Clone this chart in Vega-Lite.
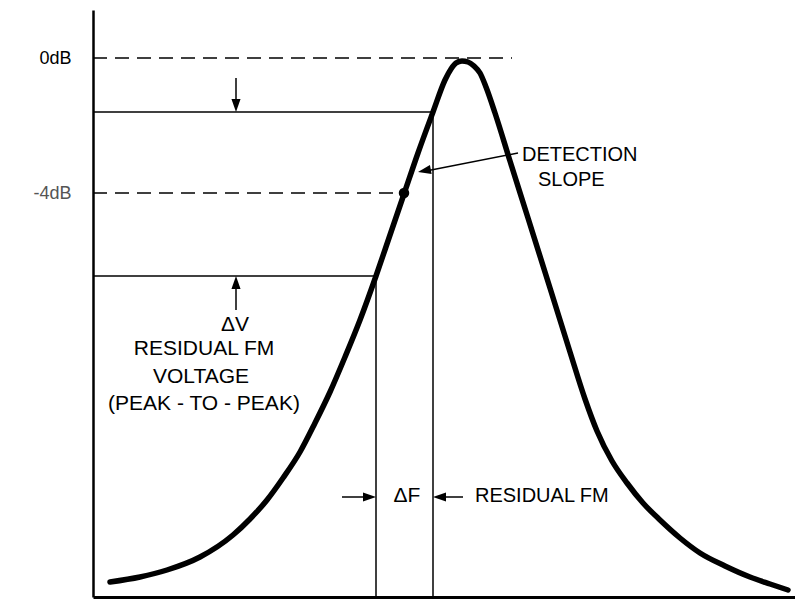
{
  "$schema": "https://vega.github.io/schema/vega-lite/v6.json",
  "width": 702,
  "height": 587,
  "autosize": {"type": "none"},
  "padding": {"left": 93, "top": 10, "right": 0, "bottom": 4},
  "background": "white",
  "config": {"view": {"stroke": null}, "font": "Liberation Sans"},
  "datasets": {
    "curve": [
      {"x": 17, "y": 15}, {"x": 47, "y": 20}, {"x": 74, "y": 27}, {"x": 107, "y": 40},
      {"x": 140, "y": 62}, {"x": 157, "y": 78}, {"x": 174, "y": 97}, {"x": 190, "y": 119},
      {"x": 207, "y": 145}, {"x": 222, "y": 174}, {"x": 237, "y": 205}, {"x": 252, "y": 240},
      {"x": 267, "y": 277},
      {"x": 283, "y": 321}, {"x": 297, "y": 362}, {"x": 311, "y": 403}, {"x": 325, "y": 444},
      {"x": 340, "y": 485}, {"x": 352, "y": 517}, {"x": 358, "y": 528}, {"x": 363, "y": 534},
      {"x": 369, "y": 536}, {"x": 375, "y": 535}, {"x": 381, "y": 531}, {"x": 387, "y": 524},
      {"x": 393, "y": 510}, {"x": 402, "y": 484}, {"x": 417, "y": 436}, {"x": 435, "y": 379},
      {"x": 457, "y": 309}, {"x": 477, "y": 245}, {"x": 492, "y": 198}, {"x": 504, "y": 166},
      {"x": 519, "y": 136}, {"x": 534, "y": 114}, {"x": 550, "y": 94}, {"x": 567, "y": 77},
      {"x": 587, "y": 59}, {"x": 607, "y": 44}, {"x": 632, "y": 31}, {"x": 657, "y": 20},
      {"x": 677, "y": 13}, {"x": 695, "y": 7}
    ],
    "dashed": [
      {"x": 0, "x2": 419, "y": 539},
      {"x": 0, "x2": 311, "y": 404}
    ],
    "solid": [
      {"x": 0, "x2": 340, "y": 485, "y2": 485},
      {"x": 0, "x2": 283, "y": 321, "y2": 321},
      {"x": 283, "x2": 283, "y": 321, "y2": 0},
      {"x": 340, "x2": 340, "y": 485, "y2": 0},
      {"x": 143, "x2": 143, "y": 519, "y2": 495},
      {"x": 143, "x2": 143, "y": 287, "y2": 311},
      {"x": 249, "x2": 273, "y": 100, "y2": 100},
      {"x": 370, "x2": 350, "y": 100, "y2": 100},
      {"x": 425, "x2": 333, "y": 444, "y2": 426}
    ],
    "head_down": [{"x": 143, "y": 491.5}],
    "head_up": [{"x": 143, "y": 314.5}],
    "head_right": [{"x": 276.5, "y": 100}],
    "head_left": [{"x": 346.5, "y": 100}],
    "head_diag": [{"x": 331.4, "y": 426.2}],
    "dot": [{"x": 311, "y": 404}],
    "labels_left": [
      {"x": 142, "y": 272, "text": "ΔV"},
      {"x": 111, "y": 248, "text": "RESIDUAL FM"},
      {"x": 108, "y": 220, "text": "VOLTAGE"},
      {"x": 111, "y": 193, "text": "(PEAK - TO - PEAK)"}
    ],
    "labels_start": [
      {"x": 429, "y": 442, "text": "DETECTION"},
      {"x": 445, "y": 417, "text": "SLOPE"},
      {"x": 382, "y": 101, "text": "RESIDUAL FM"}
    ],
    "labels_center": [
      {"x": 314, "y": 101, "text": "ΔF"}
    ]
  },
  "layer": [
    {
      "data": {"name": "curve"},
      "mark": {"type": "line", "interpolate": "monotone", "color": "black", "strokeWidth": 5.5, "strokeCap": "round"},
      "encoding": {
        "x": {"field": "x", "type": "quantitative", "scale": {"domain": [0, 702], "nice": false, "zero": false},
          "axis": {"orient": "bottom", "labels": false, "ticks": false, "grid": false, "title": null, "domainColor": "black", "domainWidth": 3}},
        "y": {"field": "y", "type": "quantitative", "scale": {"domain": [0, 587], "nice": false, "zero": false},
          "axis": {"orient": "left", "values": [539, 404], "labelExpr": "datum.value == 539 ? '0dB' : '-4dB'", "ticks": false, "grid": false, "title": null, "domainColor": "black", "domainWidth": 2.5, "labelFontSize": 18, "labelPadding": 22, "labelColor": {"condition": {"test": "datum.value == 404", "value": "#555555"}, "value": "black"}, "labelFont": "Liberation Sans"}}
      }
    },
    {
      "data": {"name": "dashed"},
      "mark": {"type": "rule", "color": "black", "strokeWidth": 1.6, "strokeDash": [14, 8]},
      "encoding": {
        "x": {"field": "x", "type": "quantitative"},
        "x2": {"field": "x2"},
        "y": {"field": "y", "type": "quantitative"}
      }
    },
    {
      "data": {"name": "solid"},
      "mark": {"type": "rule", "color": "black", "strokeWidth": 1.5},
      "encoding": {
        "x": {"field": "x", "type": "quantitative"},
        "x2": {"field": "x2"},
        "y": {"field": "y", "type": "quantitative"},
        "y2": {"field": "y2"}
      }
    },
    {
      "data": {"name": "head_down"},
      "mark": {"type": "point", "shape": "M-0.7,-1L0.7,-1L0,1Z", "filled": true, "color": "black", "opacity": 1, "size": 169},
      "encoding": {"x": {"field": "x", "type": "quantitative"}, "y": {"field": "y", "type": "quantitative"}}
    },
    {
      "data": {"name": "head_up"},
      "mark": {"type": "point", "shape": "M-0.7,1L0.7,1L0,-1Z", "filled": true, "color": "black", "opacity": 1, "size": 169},
      "encoding": {"x": {"field": "x", "type": "quantitative"}, "y": {"field": "y", "type": "quantitative"}}
    },
    {
      "data": {"name": "head_right"},
      "mark": {"type": "point", "shape": "M-1,-0.7L-1,0.7L1,0Z", "filled": true, "color": "black", "opacity": 1, "size": 169},
      "encoding": {"x": {"field": "x", "type": "quantitative"}, "y": {"field": "y", "type": "quantitative"}}
    },
    {
      "data": {"name": "head_left"},
      "mark": {"type": "point", "shape": "M1,-0.7L1,0.7L-1,0Z", "filled": true, "color": "black", "opacity": 1, "size": 169},
      "encoding": {"x": {"field": "x", "type": "quantitative"}, "y": {"field": "y", "type": "quantitative"}}
    },
    {
      "data": {"name": "head_diag"},
      "mark": {"type": "point", "shape": "M1,-0.7L1,0.7L-1,0Z", "angle": 349, "filled": true, "color": "black", "opacity": 1, "size": 169},
      "encoding": {"x": {"field": "x", "type": "quantitative"}, "y": {"field": "y", "type": "quantitative"}}
    },
    {
      "data": {"name": "dot"},
      "mark": {"type": "point", "shape": "circle", "filled": true, "color": "black", "opacity": 1, "size": 110},
      "encoding": {"x": {"field": "x", "type": "quantitative"}, "y": {"field": "y", "type": "quantitative"}}
    },
    {
      "data": {"name": "labels_left"},
      "mark": {"type": "text", "align": "center", "baseline": "middle", "fontSize": 21, "font": "Liberation Sans", "color": "black"},
      "encoding": {"x": {"field": "x", "type": "quantitative"}, "y": {"field": "y", "type": "quantitative"}, "text": {"field": "text"}}
    },
    {
      "data": {"name": "labels_start"},
      "mark": {"type": "text", "align": "left", "baseline": "middle", "fontSize": 20, "font": "Liberation Sans", "color": "black"},
      "encoding": {"x": {"field": "x", "type": "quantitative"}, "y": {"field": "y", "type": "quantitative"}, "text": {"field": "text"}}
    },
    {
      "data": {"name": "labels_center"},
      "mark": {"type": "text", "align": "center", "baseline": "middle", "fontSize": 21, "font": "Liberation Sans", "color": "black"},
      "encoding": {"x": {"field": "x", "type": "quantitative"}, "y": {"field": "y", "type": "quantitative"}, "text": {"field": "text"}}
    }
  ]
}
